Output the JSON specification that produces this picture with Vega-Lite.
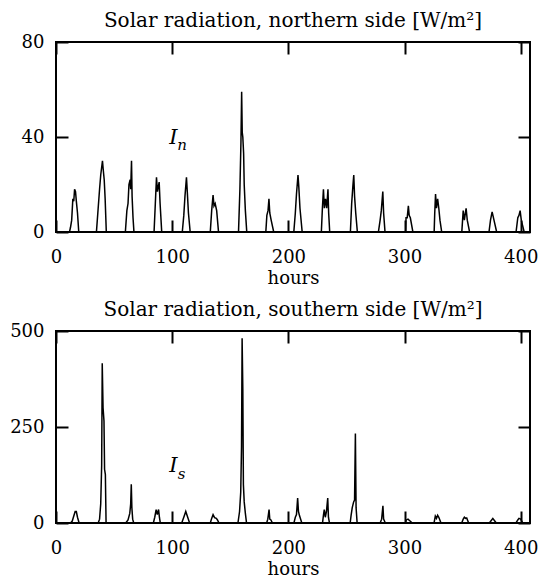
{
  "$schema": "https://vega.github.io/schema/vega-lite/v6.json",
  "padding": {"left": 8, "top": 10, "right": 0, "bottom": 0},
  "background": "white",
  "spacing": 11,
  "config": {
    "view": {"stroke": "black", "strokeWidth": 2},
    "font": "DejaVu Serif",
    "axis": {"grid": false, "domain": false, "ticks": true, "tickColor": "black", "tickWidth": 2, "tickSize": 12, "offset": -12, "labelPadding": 12, "labelFont": "DejaVu Serif", "labelFontSize": 18, "labelColor": "black", "labelFlush": false, "labelOverlap": false, "titleFont": "DejaVu Serif", "titleFontSize": 18, "titleFontWeight": "normal", "titleColor": "black"},
    "axisX": {"labelPadding": 16},
    "title": {"font": "DejaVu Serif", "fontSize": 20, "fontWeight": "normal", "anchor": "middle", "color": "black"}
  },
  "datasets": {
    "north": [
      {"hour": 0, "value": 0}, {"hour": 11.6, "value": 0}, {"hour": 12.5, "value": 2}, {"hour": 13.5, "value": 5}, {"hour": 14.5, "value": 14}, {"hour": 15.3, "value": 13}, {"hour": 16, "value": 18}, {"hour": 16.8, "value": 17}, {"hour": 17.5, "value": 13}, {"hour": 18.5, "value": 8}, {"hour": 19.6, "value": 0},
      {"hour": 34.8, "value": 0}, {"hour": 36, "value": 8}, {"hour": 37.5, "value": 18}, {"hour": 38.5, "value": 24}, {"hour": 39.5, "value": 28}, {"hour": 40, "value": 30}, {"hour": 40.7, "value": 26}, {"hour": 41.5, "value": 22}, {"hour": 42.3, "value": 14}, {"hour": 43.3, "value": 0},
      {"hour": 59.7, "value": 0}, {"hour": 61, "value": 9}, {"hour": 62, "value": 12}, {"hour": 62.8, "value": 20}, {"hour": 63.8, "value": 22}, {"hour": 64.3, "value": 18}, {"hour": 65, "value": 30}, {"hour": 65.5, "value": 15}, {"hour": 66.3, "value": 6}, {"hour": 67.1, "value": 0},
      {"hour": 84.4, "value": 0}, {"hour": 85.5, "value": 12}, {"hour": 86.5, "value": 23}, {"hour": 87.3, "value": 17}, {"hour": 88, "value": 19}, {"hour": 88.8, "value": 21}, {"hour": 89.6, "value": 12}, {"hour": 91, "value": 0},
      {"hour": 108.7, "value": 0}, {"hour": 110, "value": 7}, {"hour": 111, "value": 15}, {"hour": 112.3, "value": 23}, {"hour": 113, "value": 17}, {"hour": 114, "value": 8}, {"hour": 115.5, "value": 0},
      {"hour": 132.8, "value": 0}, {"hour": 134, "value": 9}, {"hour": 135.2, "value": 15.5}, {"hour": 136, "value": 11}, {"hour": 137, "value": 12}, {"hour": 138.3, "value": 9}, {"hour": 139.9, "value": 0},
      {"hour": 157.1, "value": 0}, {"hour": 158.3, "value": 18}, {"hour": 159.2, "value": 38}, {"hour": 159.8, "value": 59}, {"hour": 160.3, "value": 42}, {"hour": 160.8, "value": 40}, {"hour": 161.5, "value": 33}, {"hour": 162, "value": 20}, {"hour": 163, "value": 9}, {"hour": 164.2, "value": 0},
      {"hour": 180.6, "value": 0}, {"hour": 181.5, "value": 7}, {"hour": 182.5, "value": 9}, {"hour": 183.3, "value": 14}, {"hour": 184, "value": 8}, {"hour": 185.2, "value": 5}, {"hour": 187.4, "value": 0},
      {"hour": 204.7, "value": 0}, {"hour": 206, "value": 8}, {"hour": 207, "value": 16}, {"hour": 208.3, "value": 24}, {"hour": 209, "value": 19}, {"hour": 210, "value": 10}, {"hour": 211.9, "value": 0},
      {"hour": 228.4, "value": 0}, {"hour": 229.3, "value": 10}, {"hour": 230.2, "value": 18}, {"hour": 231, "value": 10}, {"hour": 232, "value": 14}, {"hour": 233, "value": 10}, {"hour": 234.1, "value": 18}, {"hour": 234.7, "value": 8}, {"hour": 235.6, "value": 0},
      {"hour": 253.4, "value": 0}, {"hour": 254.5, "value": 12}, {"hour": 255.5, "value": 19}, {"hour": 256.3, "value": 24}, {"hour": 257, "value": 15}, {"hour": 258, "value": 8}, {"hour": 259.4, "value": 0},
      {"hour": 277.5, "value": 0}, {"hour": 279, "value": 5}, {"hour": 280, "value": 9}, {"hour": 281.3, "value": 17}, {"hour": 282, "value": 8}, {"hour": 283.2, "value": 0},
      {"hour": 301, "value": 0}, {"hour": 301.3, "value": 6}, {"hour": 302.3, "value": 6}, {"hour": 303.3, "value": 11}, {"hour": 304, "value": 7}, {"hour": 305, "value": 6}, {"hour": 307.2, "value": 0},
      {"hour": 325.5, "value": 0}, {"hour": 326, "value": 8}, {"hour": 326.7, "value": 16}, {"hour": 327.5, "value": 10}, {"hour": 328.5, "value": 14}, {"hour": 329.5, "value": 10}, {"hour": 330.5, "value": 5}, {"hour": 332, "value": 0},
      {"hour": 349.3, "value": 0}, {"hour": 350.5, "value": 9}, {"hour": 351.5, "value": 5}, {"hour": 353, "value": 10}, {"hour": 354, "value": 5}, {"hour": 356, "value": 0},
      {"hour": 372.7, "value": 0}, {"hour": 374, "value": 5}, {"hour": 375.4, "value": 8.5}, {"hour": 377, "value": 5}, {"hour": 379.3, "value": 0},
      {"hour": 396, "value": 0}, {"hour": 397.5, "value": 6}, {"hour": 398.5, "value": 7}, {"hour": 399.5, "value": 9}, {"hour": 400.5, "value": 5}, {"hour": 401.5, "value": 3}, {"hour": 403, "value": 0}, {"hour": 408, "value": 0}
    ],
    "south": [
      {"hour": 0, "value": 0}, {"hour": 12.5, "value": 0}, {"hour": 14, "value": 5}, {"hour": 15.5, "value": 20}, {"hour": 16.5, "value": 30}, {"hour": 17.5, "value": 30}, {"hour": 18.5, "value": 15}, {"hour": 19.9, "value": 0},
      {"hour": 36.3, "value": 0}, {"hour": 37.5, "value": 10}, {"hour": 38.5, "value": 50}, {"hour": 39.3, "value": 150}, {"hour": 39.8, "value": 416}, {"hour": 40.5, "value": 300}, {"hour": 41.3, "value": 266}, {"hour": 41.8, "value": 140}, {"hour": 42.5, "value": 126}, {"hour": 43.1, "value": 0},
      {"hour": 60, "value": 0}, {"hour": 62, "value": 8}, {"hour": 63.5, "value": 25}, {"hour": 64.3, "value": 50}, {"hour": 64.8, "value": 101}, {"hour": 65.3, "value": 40}, {"hour": 66, "value": 10}, {"hour": 66.9, "value": 0},
      {"hour": 83.8, "value": 0}, {"hour": 85, "value": 15}, {"hour": 86.2, "value": 35}, {"hour": 87.2, "value": 22}, {"hour": 88.3, "value": 35}, {"hour": 89, "value": 15}, {"hour": 89.8, "value": 0},
      {"hour": 108.2, "value": 0}, {"hour": 110, "value": 15}, {"hour": 111.7, "value": 30}, {"hour": 113, "value": 18}, {"hour": 115, "value": 0},
      {"hour": 132.8, "value": 0}, {"hour": 134, "value": 12}, {"hour": 135.2, "value": 22}, {"hour": 136.5, "value": 14}, {"hour": 138, "value": 12}, {"hour": 139, "value": 8}, {"hour": 140.3, "value": 0},
      {"hour": 156.6, "value": 0}, {"hour": 158, "value": 30}, {"hour": 159, "value": 80}, {"hour": 159.7, "value": 200}, {"hour": 160.2, "value": 481}, {"hour": 160.8, "value": 350}, {"hour": 161.3, "value": 100}, {"hour": 162, "value": 55}, {"hour": 163, "value": 25}, {"hour": 164, "value": 0},
      {"hour": 181.3, "value": 0}, {"hour": 182.3, "value": 10}, {"hour": 183.4, "value": 35}, {"hour": 184, "value": 10}, {"hour": 185, "value": 8}, {"hour": 186.3, "value": 0},
      {"hour": 204.8, "value": 0}, {"hour": 206, "value": 15}, {"hour": 207, "value": 22}, {"hour": 208, "value": 65}, {"hour": 208.7, "value": 30}, {"hour": 209.5, "value": 20}, {"hour": 211.6, "value": 0},
      {"hour": 229.4, "value": 0}, {"hour": 230.2, "value": 20}, {"hour": 230.9, "value": 35}, {"hour": 231.8, "value": 15}, {"hour": 232.8, "value": 30}, {"hour": 233.9, "value": 65}, {"hour": 234.5, "value": 15}, {"hour": 235.4, "value": 0},
      {"hour": 253.2, "value": 0}, {"hour": 254, "value": 20}, {"hour": 255, "value": 40}, {"hour": 256.2, "value": 55}, {"hour": 257, "value": 60}, {"hour": 257.7, "value": 233}, {"hour": 258.3, "value": 40}, {"hour": 259.2, "value": 0},
      {"hour": 279, "value": 0}, {"hour": 280.3, "value": 10}, {"hour": 281.4, "value": 45}, {"hour": 282, "value": 10}, {"hour": 283.5, "value": 0},
      {"hour": 300.8, "value": 0}, {"hour": 301.5, "value": 8}, {"hour": 303, "value": 10}, {"hour": 304.5, "value": 6}, {"hour": 306.7, "value": 0},
      {"hour": 325.4, "value": 0}, {"hour": 326.5, "value": 18}, {"hour": 327.5, "value": 12}, {"hour": 328.5, "value": 20}, {"hour": 329.5, "value": 15}, {"hour": 331.4, "value": 0},
      {"hour": 349.2, "value": 0}, {"hour": 350.5, "value": 10}, {"hour": 351.5, "value": 15}, {"hour": 352.5, "value": 12}, {"hour": 353.5, "value": 13}, {"hour": 355.2, "value": 0},
      {"hour": 373, "value": 0}, {"hour": 375, "value": 8}, {"hour": 376, "value": 12}, {"hour": 377, "value": 8}, {"hour": 379, "value": 0},
      {"hour": 395.9, "value": 0}, {"hour": 397.5, "value": 8}, {"hour": 398.5, "value": 12}, {"hour": 400, "value": 10}, {"hour": 401.8, "value": 0}, {"hour": 408, "value": 0}
    ]
  },
  "vconcat": [
    {
      "title": {"text": "Solar radiation, northern side [W/m²]", "offset": 2},
      "width": 474,
      "height": 190,
      "layer": [
        {
          "data": {"name": "north"},
          "mark": {"type": "line", "color": "black", "strokeWidth": 1.5},
          "encoding": {
            "x": {"field": "hour", "type": "quantitative", "scale": {"domain": [0, 408], "nice": false}, "axis": {"values": [0, 100, 200, 300, 400], "title": "hours", "titlePadding": 3}},
            "y": {"field": "value", "type": "quantitative", "scale": {"domain": [0, 80], "nice": false}, "axis": {"values": [0, 40, 80], "title": null}}
          }
        },
        {
          "data": {"values": [{"hour": 101, "value": 39.6, "label": "I"}]},
          "mark": {"type": "text", "fontStyle": "italic", "fontSize": 21, "font": "DejaVu Serif", "color": "black"},
          "encoding": {
            "x": {"field": "hour", "type": "quantitative", "axis": {"orient": "top", "values": [0, 100, 200, 300, 400], "labels": false, "title": null}},
            "y": {"field": "value", "type": "quantitative", "axis": {"orient": "right", "values": [0, 40, 80], "labels": false, "title": null}},
            "text": {"field": "label"}
          }
        },
        {
          "data": {"values": [{"hour": 108.5, "value": 36.5, "label": "n"}]},
          "mark": {"type": "text", "fontStyle": "italic", "fontSize": 15, "font": "DejaVu Serif", "color": "black"},
          "encoding": {
            "x": {"field": "hour", "type": "quantitative", "axis": null},
            "y": {"field": "value", "type": "quantitative", "axis": null},
            "text": {"field": "label"}
          }
        }
      ],
      "resolve": {"axis": {"x": "independent", "y": "independent"}}
    },
    {
      "title": {"text": "Solar radiation, southern side [W/m²]", "offset": 2},
      "width": 474,
      "height": 192,
      "layer": [
        {
          "data": {"name": "south"},
          "mark": {"type": "line", "color": "black", "strokeWidth": 1.5},
          "encoding": {
            "x": {"field": "hour", "type": "quantitative", "scale": {"domain": [0, 408], "nice": false}, "axis": {"values": [0, 100, 200, 300, 400], "title": "hours", "titlePadding": 3}},
            "y": {"field": "value", "type": "quantitative", "scale": {"domain": [0, 500], "nice": false}, "axis": {"values": [0, 250, 500], "title": null}}
          }
        },
        {
          "data": {"values": [{"hour": 101, "value": 148, "label": "I"}]},
          "mark": {"type": "text", "fontStyle": "italic", "fontSize": 21, "font": "DejaVu Serif", "color": "black"},
          "encoding": {
            "x": {"field": "hour", "type": "quantitative", "axis": {"orient": "top", "values": [0, 100, 200, 300, 400], "labels": false, "title": null}},
            "y": {"field": "value", "type": "quantitative", "axis": {"orient": "right", "values": [0, 250, 500], "labels": false, "title": null}},
            "text": {"field": "label"}
          }
        },
        {
          "data": {"values": [{"hour": 108, "value": 128, "label": "s"}]},
          "mark": {"type": "text", "fontStyle": "italic", "fontSize": 15, "font": "DejaVu Serif", "color": "black"},
          "encoding": {
            "x": {"field": "hour", "type": "quantitative", "axis": null},
            "y": {"field": "value", "type": "quantitative", "axis": null},
            "text": {"field": "label"}
          }
        }
      ],
      "resolve": {"axis": {"x": "independent", "y": "independent"}}
    }
  ]
}
